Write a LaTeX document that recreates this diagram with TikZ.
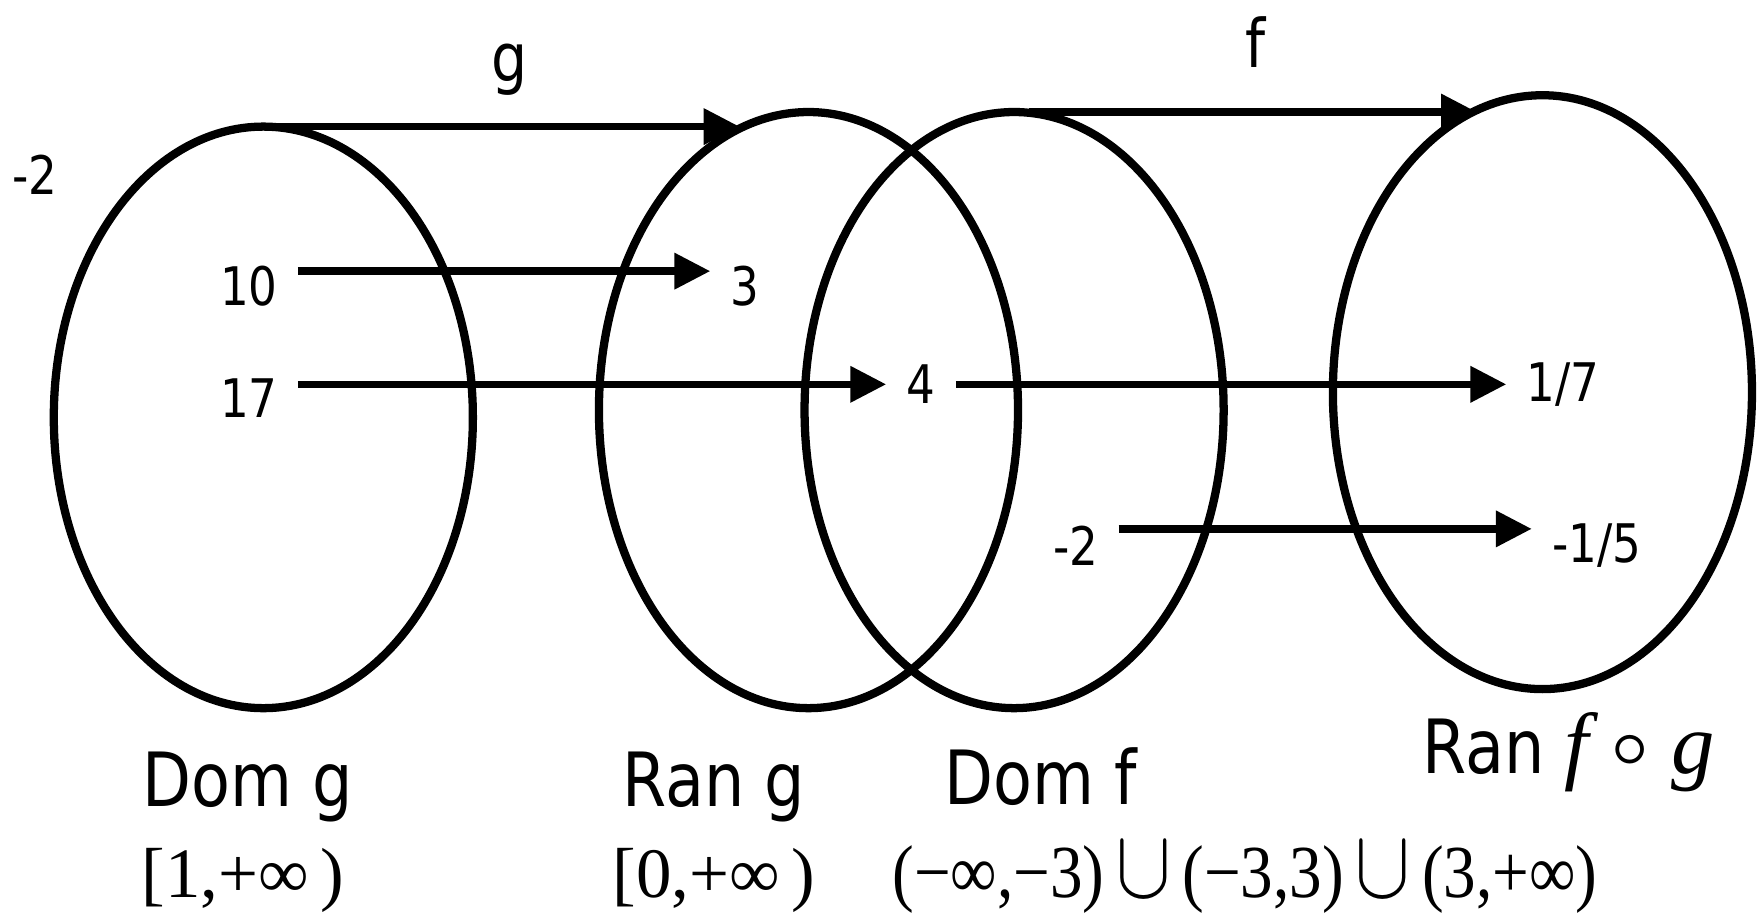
\documentclass[tikz,border=0pt]{standalone}
\usepackage{fontspec}
\usepackage{unicode-math}
\newfontfamily\labelfont{DejaVu Sans}[FakeStretch=0.85]
\newfontfamily\serif{Liberation Serif}
\usetikzlibrary{shapes.geometric,arrows.meta}

\newcommand{\bigunion}{\,\scalebox{1.3}{$\cup$}\,}

\tikzset{
  setoval/.style={draw, ellipse, line width=2.1pt, minimum width=3.74cm, inner sep=0pt, outer sep=0pt},
  map/.style={-{Triangle[length=3.2mm,width=3.1mm]}, line width=1.9pt},
  val/.style={font=\labelfont\fontsize{13.5}{14}\selectfont, inner sep=5pt},
  fname/.style={font=\labelfont\fontsize{17}{18}\selectfont},
  setname/.style={font=\labelfont\fontsize{19}{20}\selectfont, anchor=base},
  interval/.style={anchor=base}
}

\begin{document}
\begin{tikzpicture}
  \useasboundingbox (0,0) rectangle (15.68,8.15);

  % The four sets
  \foreach \name/\x/\y/\h in {domg/2.35/4.425/5.19, rang/7.215/4.49/5.32, domf/9.05/4.49/5.32, ranfg/13.765/4.65/5.30} {
    \node[setoval, minimum height=\h cm] (\name) at (\x,\y) {};
  }

  % The maps g and f
  \path (domg.north) ++(4.25,0) coordinate (gtip);
  \path (domf.north) ++(4.13,0) coordinate (ftip);
  \draw[map] (domg.north) -- (gtip);
  \draw[map] ([xshift=1.3mm]domf.north) -- (ftip);
  \node[fname] (gname) at (4.55,7.53) {g};
  \node[fname] (fname) at (11.20,7.77) {f};

  % Elements
  \node[val] (m2out) at (0.31,6.59) {-2};
  \node[val] (n10) at (2.22,5.60) {10};
  \node[val] (n3) at (6.65,5.60) {3};
  \node[val] (n17) at (2.22,4.60) {17};
  \node[val] (n4) at (8.22,4.72) {4};
  \node[val] (n17th) at (13.95,4.72) {1/7};
  \node[val] (m2) at (9.60,3.28) {-2};
  \node[val] (m15th) at (14.25,3.28) {-1/5};

  \draw[map] ([yshift=1.3mm]n10.east) -- ([yshift=1.3mm]n3.west);
  \draw[map] (n17.east |- n4.west) -- (n4.west);
  \draw[map] (n4.east) -- (n17th.west);
  \draw[map] ([yshift=1.5mm]m2.east) -- ([yshift=1.5mm]m15th.west);

  % Names and intervals
  \node[setname] (domgname) at (2.21,0.95) {Dom g};
  \node[setname] (rangname) at (6.37,0.95) {Ran g};
  \node[setname] (domfname) at (9.29,0.97) {Dom f};
  \node[setname] (ranfgname) at (14.00,1.25)
    {Ran\ {\serif\fontsize{22}{24}\selectfont\itshape f\ \scalebox{1.1}{$\circ$}\ g}};
  \node[interval, font=\serif\fontsize{18}{20}\selectfont] (domgint) at (2.17,0.14) {[1,+∞\,)};
  \node[interval, font=\serif\fontsize{18}{20}\selectfont] (rangint) at (6.37,0.14) {[0,+∞\,)};
  \node[interval, font=\serif\fontsize{19}{20}\selectfont] (domfint) at (11.11,0.14)
    {\scalebox{0.87}[1]{(−∞,−3)\bigunion(−3,3)\bigunion(3,+∞)}};
\end{tikzpicture}
\end{document}
